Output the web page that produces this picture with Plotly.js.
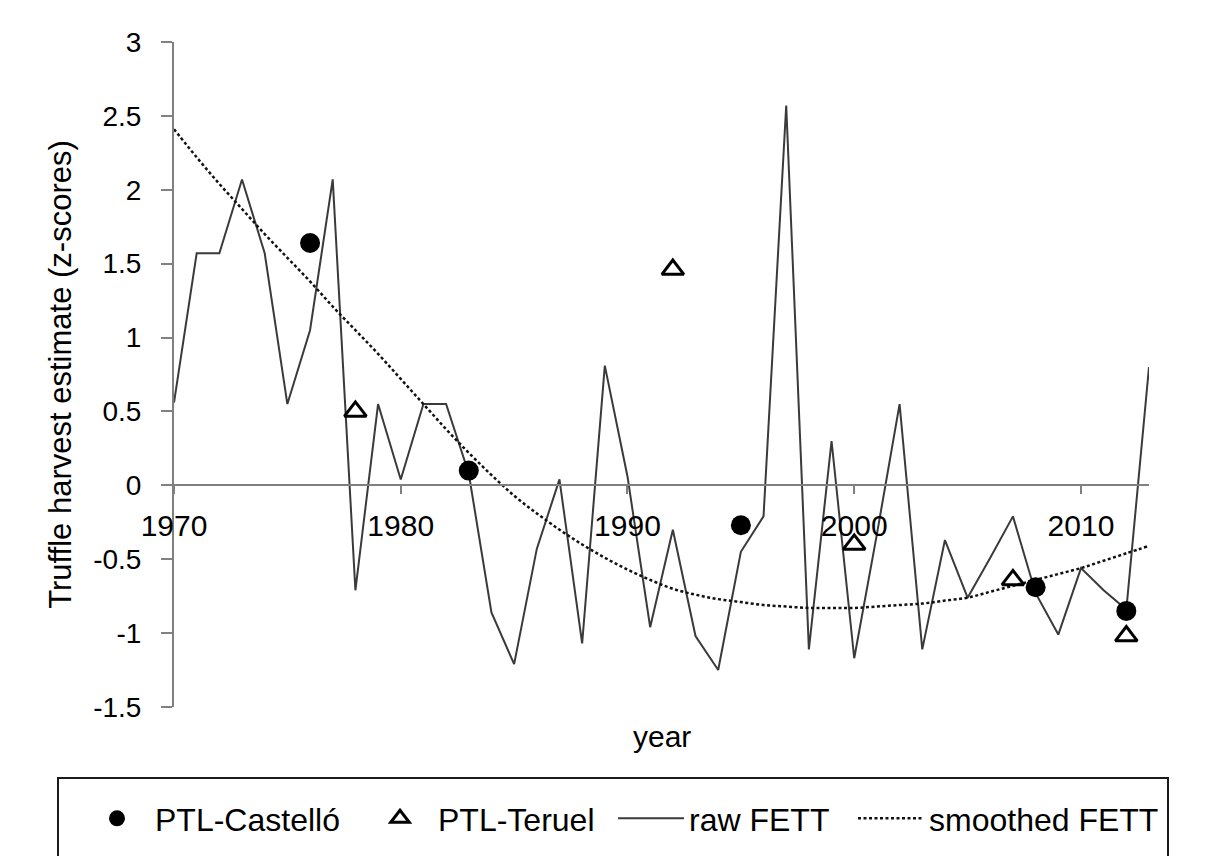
<!DOCTYPE html>
<html>
<head>
<meta charset="utf-8">
<script src="https://cdn.plot.ly/plotly-3.0.1.min.js"></script>
<style>
  html, body { margin: 0; padding: 0; background: #ffffff; }
  #chart { width: 1212px; height: 856px; }
</style>
</head>
<body>
<div id="chart"></div>
<script>
// ---- data ----
var years = [1970,1971,1972,1973,1974,1975,1976,1977,1978,1979,
             1980,1981,1982,1983,1984,1985,1986,1987,1988,1989,
             1990,1991,1992,1993,1994,1995,1996,1997,1998,1999,
             2000,2001,2002,2003,2004,2005,2006,2007,2008,2009,
             2010,2011,2012,2013];

var rawFETT = [0.56,1.57,1.57,2.07,1.57,0.55,1.05,2.07,-0.71,0.55,
               0.04,0.55,0.55,0.08,-0.86,-1.21,-0.43,0.04,-1.07,0.81,
               0.06,-0.96,-0.30,-1.02,-1.25,-0.45,-0.21,2.57,-1.11,0.30,
               -1.17,-0.33,0.55,-1.11,-0.37,-0.76,-0.49,-0.21,-0.73,-1.01,
               -0.56,-0.71,-0.84,0.80];

var smoothedFETT = [2.41,2.22,2.04,1.87,1.70,1.54,1.38,1.21,1.05,0.89,
                    0.72,0.55,0.38,0.22,0.07,-0.07,-0.19,-0.30,-0.40,-0.49,
                    -0.57,-0.64,-0.70,-0.74,-0.77,-0.79,-0.81,-0.82,-0.83,-0.83,
                    -0.83,-0.82,-0.81,-0.80,-0.78,-0.76,-0.72,-0.68,-0.64,-0.60,
                    -0.56,-0.51,-0.46,-0.41];

var castelloYears = [1976, 1983, 1995, 2008, 2012];
var castelloValues = [1.64, 0.10, -0.27, -0.69, -0.85];

var teruelYears = [1978, 1992, 2000, 2007, 2012];
var teruelValues = [0.50, 1.46, -0.40, -0.64, -1.02];

var xTickVals = [1970, 1980, 1990, 2000, 2010];
var xTickText = ['1970', '1980', '1990', '2000', '2010'];
var yTickVals = [3, 2.5, 2, 1.5, 1, 0.5, 0, -0.5, -1, -1.5];
var yTickText = ['3', '2.5', '2', '1.5', '1', '0.5', '0', '-0.5', '-1', '-1.5'];

// ---- chart ----
var FONT = 'Liberation Sans, Arial, Helvetica, sans-serif';
var W = 1212, H = 856;
var yMin = -1.5, yMax = 3;

var traces = [
  {
    x: years, y: rawFETT, name: 'raw FETT', type: 'scatter', mode: 'lines',
    line: { color: '#3a3a3a', width: 2 }, legend: 'legend3'
  },
  {
    x: years, y: smoothedFETT, name: 'smoothed FETT', type: 'scatter', mode: 'lines',
    line: { color: '#111111', width: 2.5, dash: '3px,2.5px', shape: 'spline' }, legend: 'legend4'
  },
  {
    x: castelloYears, y: castelloValues, name: 'PTL-Castelló', type: 'scatter', mode: 'markers',
    marker: { symbol: 'circle', size: 20, color: '#000000' }, legend: 'legend'
  },
  {
    x: teruelYears, y: teruelValues, name: 'PTL-Teruel', type: 'scatter', mode: 'markers',
    marker: { symbol: 'triangle-up-open', size: 19, color: '#000000', line: { width: 3, color: '#000000' } },
    legend: 'legend2'
  }
];

function legendAt(px) {
  return {
    orientation: 'h',
    xref: 'container', yref: 'container',
    x: px / W, xanchor: 'left',
    y: 1 - 791 / H, yanchor: 'top',
    font: { family: FONT, size: 32, color: '#000000' },
    itemwidth: 66,
    bgcolor: 'rgba(0,0,0,0)',
    borderwidth: 0
  };
}

var layout = {
  width: W, height: H,
  paper_bgcolor: '#ffffff', plot_bgcolor: '#ffffff',
  margin: { l: 174, r: 63, t: 42, b: 149, pad: 0 },
  font: { family: FONT, color: '#000000', size: 28 },
  showlegend: true,
  xaxis: {
    range: [1970, 2013],
    anchor: 'free',
    position: (0 - yMin) / (yMax - yMin),
    tickmode: 'array', tickvals: xTickVals, ticktext: xTickText,
    ticks: 'outside', ticklen: 8, tickwidth: 2, tickcolor: '#808080',
    showline: true, linecolor: '#808080', linewidth: 2,
    showgrid: false, zeroline: false,
    tickfont: { family: FONT, size: 30, color: '#000000' },
    ticklabelstandoff: 6,
    fixedrange: true
  },
  yaxis: {
    range: [yMin, yMax],
    tickmode: 'array', tickvals: yTickVals, ticktext: yTickText,
    ticks: 'outside', ticklen: 11, tickwidth: 2, tickcolor: '#808080',
    showline: true, linecolor: '#808080', linewidth: 2,
    showgrid: false, zeroline: false,
    tickfont: { family: FONT, size: 28, color: '#000000' },
    ticklabelstandoff: 14,
    title: { text: 'Truffle harvest estimate (z-scores)', font: { family: FONT, size: 31, color: '#000000' }, standoff: 12 },
    automargin: false,
    fixedrange: true
  },
  legend: legendAt(79),
  legend2: legendAt(362),
  legend3: legendAt(613),
  legend4: legendAt(853),
  annotations: [
    {
      text: 'year', xref: 'paper', yref: 'paper', x: 0.5, y: -0.045,
      xanchor: 'center', yanchor: 'middle', showarrow: false,
      font: { family: FONT, size: 30, color: '#000000' }
    }
  ],
  shapes: [
    {
      type: 'rect', xref: 'paper', yref: 'paper',
      x0: (58 - 174) / 975, x1: (1168 - 174) / 975,
      y0: -(778 - 707) / 665, y1: -(900 - 707) / 665,
      line: { color: '#1a1a1a', width: 2 }, fillcolor: 'rgba(0,0,0,0)'
    }
  ]
};

Plotly.newPlot('chart', traces, layout, { displayModeBar: false, staticPlot: true });
</script>
</body>
</html>
